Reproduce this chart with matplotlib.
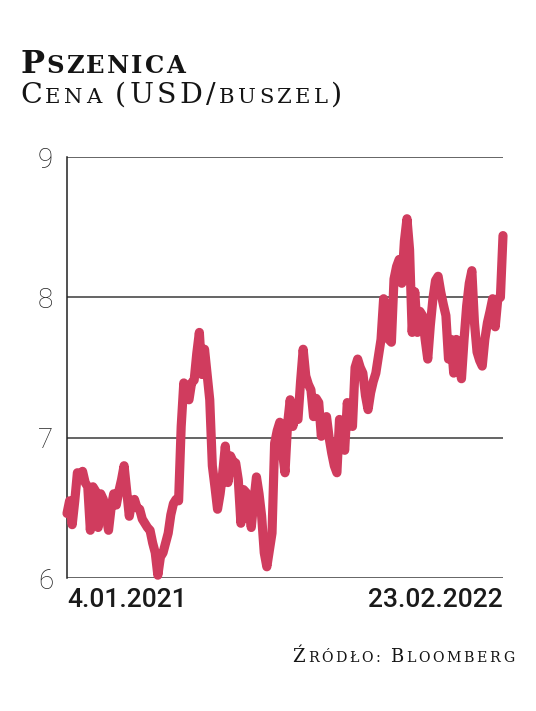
import matplotlib
matplotlib.use("Agg")
import matplotlib.pyplot as plt
import numpy as np
import pandas as pd

# wheat price, USD per bushel (roughly evenly spaced in time)
prices = [
    6.46, 6.55, 6.38, 6.55, 6.75, 6.74, 6.76, 6.68, 6.65, 6.34,
    6.65, 6.62, 6.36, 6.60, 6.56, 6.45, 6.34, 6.50, 6.60, 6.52,
    6.62, 6.70, 6.80, 6.62, 6.44, 6.55, 6.56, 6.50, 6.49, 6.42,
    6.39, 6.36, 6.34, 6.25, 6.18, 6.02, 6.15, 6.18, 6.25, 6.32,
    6.45, 6.53, 6.56, 6.55, 7.08, 7.39, 7.30, 7.27, 7.39, 7.41,
    7.60, 7.75, 7.45, 7.63, 7.45, 7.27, 6.80, 6.65, 6.49, 6.60,
    6.75, 6.94, 6.68, 6.87, 6.83, 6.82, 6.70, 6.39, 6.63, 6.61,
    6.50, 6.36, 6.55, 6.72, 6.60, 6.44, 6.18, 6.08, 6.20, 6.32,
    6.96, 7.05, 7.11, 6.90, 6.75, 7.10, 7.27, 7.08, 7.15, 7.13,
    7.40, 7.63, 7.44, 7.38, 7.34, 7.15, 7.28, 7.25, 7.01, 7.12,
    7.15, 7.00, 6.89, 6.80, 6.75, 7.13, 7.00, 6.91, 7.25, 7.10,
    7.08, 7.50, 7.56, 7.50, 7.46, 7.30, 7.20, 7.32, 7.40, 7.46,
    7.58, 7.70, 7.99, 7.90, 7.70, 7.68, 8.13, 8.22, 8.27, 8.10,
    8.40, 8.56, 8.34, 7.75, 8.04, 7.75, 7.90, 7.87, 7.70, 7.56,
    7.80, 7.99, 8.12, 8.15, 8.04, 7.95, 7.87, 7.56, 7.70, 7.46,
    7.70, 7.55, 7.42, 7.70, 7.94, 8.10, 8.19, 7.82, 7.61, 7.55,
    7.51, 7.70, 7.82, 7.90, 7.99, 7.79, 7.99, 8.00, 8.44,
]
start_label = "4.01.2021"
end_label = "23.02.2022"
dates = pd.date_range("2021-01-04", "2022-02-23", periods=len(prices))
y_ticks = [6, 7, 8, 9]

title = "Pszenica"
subtitle = "Cena (USD/buszel)"
source = "Źródło: Bloomberg"

line_color = "#d03c5e"
serif = ["DejaVu Serif"]

fig = plt.figure(figsize=(5.36, 7.11), dpi=100)
ax = fig.add_axes([67 / 536, 1 - 578 / 711, (503 - 67) / 536, (578 - 157) / 711])

ax.plot(dates, prices, color=line_color, lw=6.6, solid_capstyle="round",
        solid_joinstyle="round", clip_on=False, zorder=3)

ax.set_ylim(6, 9)
ax.set_xlim(dates[0], dates[-1])
ax.set_yticks(y_ticks)
ax.set_yticklabels([str(v) for v in y_ticks], fontfamily="Roboto",
                   fontweight="light", fontsize=20, color="#222222")
for v in y_ticks:
    ax.axhline(v, color="#3a3a3a", lw=1.1, zorder=1)

ax.set_xticks([dates[0], dates[-1]])
ax.set_xticklabels([start_label, end_label], fontfamily="Roboto",
                   fontweight="medium", fontsize=19, color="#1a1a1a")
xl = ax.get_xticklabels()
xl[0].set_horizontalalignment("left")
xl[1].set_horizontalalignment("right")
ax.tick_params(axis="x", length=0, pad=7)
ax.tick_params(axis="y", length=0, pad=10)

for s in ["top", "right", "bottom"]:
    ax.spines[s].set_visible(False)
ax.spines["left"].set_color("#222222")
ax.spines["left"].set_linewidth(1.1)

renderer = fig.canvas.get_renderer()
W = fig.bbox.width


def chars_of(text, big, small):
    out = []
    for ch in text:
        is_big = ch.isupper() or ch in "()/"
        out.append((ch.upper(), big if is_big else small))
    return out


def small_caps(x, y, text, big, small, weight="normal", align="left", track=3):
    """ fake small caps, one glyph at a time with some extra tracking """
    chars = chars_of(text, big, small)
    if align == "right":
        chars = chars[::-1]
    xp = x * W
    for c, sz in chars:
        if c == " ":
            step = 0.32 * sz * 100 / 72
        else:
            t = fig.text(xp / W, y, c, fontsize=sz, fontfamily=serif, fontweight=weight,
                         ha=align, va="baseline", color="#141414")
            bb = t.get_window_extent(renderer)
            step = bb.width
        xp += (step + track) if align == "left" else -(step + track)


small_caps(20 / 536, 1 - 73 / 711, title, 23, 17.5, weight="bold", track=2.2)
small_caps(20 / 536, 1 - 103 / 711, subtitle, 20.5, 15.2, track=3.4)
small_caps(514 / 536, 1 - 662 / 711, source, 13, 10.2, align="right", track=2.6)

fig.savefig("out.png", dpi=100)
